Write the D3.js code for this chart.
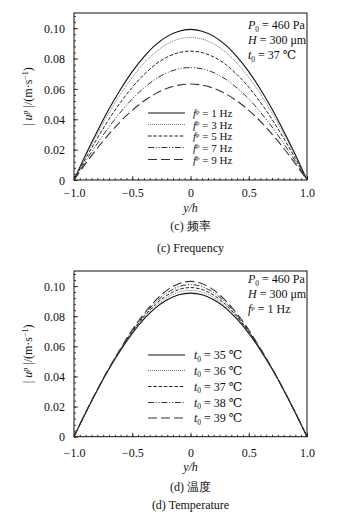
<!DOCTYPE html>
<html><head><meta charset="utf-8">
<script src="https://cdn.jsdelivr.net/npm/d3@7"></script>
<style>
body{margin:0;background:#fff;}
text{font-family:"Liberation Serif","DejaVu Serif",serif;fill:#111;}
</style></head>
<body><svg id="c" width="358" height="525"></svg>
<script>
// ---- data ----
const yh = [-1.0,-0.9,-0.8,-0.7,-0.6,-0.5,-0.4,-0.3,-0.2,-0.1,0,0.1,0.2,0.3,0.4,0.5,0.6,0.7,0.8,0.9,1.0];
const xTicks = [-1.0,-0.5,0,0.5,1.0];
const xTickLabels = ["\u22121.0","\u22120.5","0","0.5","1.0"];
const yTicks = [0,0.02,0.04,0.06,0.08,0.10];
const yTickLabels = ["0","0.02","0.04","0.06","0.08","0.10"];

// (c) frequency
const freqLabels = ["1","3","5","7","9"];
const f1 = [0,0.0166,0.0321,0.0467,0.0598,0.0714,0.0811,0.0890,0.0946,0.0980,0.0992,0.0980,0.0946,0.0890,0.0811,0.0714,0.0598,0.0467,0.0321,0.0166,0];
const f3 = [0,0.0157,0.0304,0.0442,0.0566,0.0676,0.0768,0.0842,0.0896,0.0928,0.0939,0.0928,0.0896,0.0842,0.0768,0.0676,0.0566,0.0442,0.0304,0.0157,0];
const f5 = [0,0.0142,0.0275,0.0400,0.0512,0.0611,0.0694,0.0762,0.0810,0.0839,0.0849,0.0839,0.0810,0.0762,0.0694,0.0611,0.0512,0.0400,0.0275,0.0142,0];
const f7 = [0,0.0124,0.0240,0.0349,0.0447,0.0534,0.0606,0.0665,0.0707,0.0732,0.0741,0.0732,0.0707,0.0665,0.0606,0.0534,0.0447,0.0349,0.0240,0.0124,0];
const f9 = [0,0.0108,0.0209,0.0302,0.0386,0.0459,0.0520,0.0569,0.0604,0.0625,0.0632,0.0625,0.0604,0.0569,0.0520,0.0459,0.0386,0.0302,0.0209,0.0108,0];

// (d) temperature
const tempLabels = ["35","36","37","38","39"];
const t35 = [0,0.0159,0.0309,0.0449,0.0575,0.0686,0.0780,0.0855,0.0909,0.0942,0.0953,0.0942,0.0909,0.0855,0.0780,0.0686,0.0575,0.0449,0.0309,0.0159,0];
const t36 = [0,0.0159,0.0310,0.0450,0.0577,0.0692,0.0788,0.0867,0.0924,0.0959,0.0971,0.0959,0.0924,0.0867,0.0788,0.0692,0.0577,0.0450,0.0310,0.0159,0];
const t37 = [0,0.0159,0.0310,0.0452,0.0580,0.0697,0.0796,0.0879,0.0939,0.0977,0.0990,0.0977,0.0939,0.0879,0.0796,0.0697,0.0580,0.0452,0.0310,0.0159,0];
const t38 = [0,0.0160,0.0311,0.0453,0.0582,0.0704,0.0806,0.0892,0.0956,0.0996,0.1010,0.0996,0.0956,0.0892,0.0806,0.0704,0.0582,0.0453,0.0311,0.0160,0];
const t39 = [0,0.0160,0.0312,0.0455,0.0585,0.0710,0.0815,0.0905,0.0973,0.1016,0.1031,0.1016,0.0973,0.0905,0.0815,0.0710,0.0585,0.0455,0.0312,0.0160,0];

// ---- styles ----
const styles = [
  {dash:null, color:"#111", w:1.1},
  {dash:"1,1", color:"#666", w:0.9},
  {dash:"3.5,1.8", color:"#222", w:1},
  {dash:"6,1.8,1,1.8,1,1.8", color:"#333", w:1},
  {dash:"9,4", color:"#333", w:1.1}
];

const svg = d3.select("#c");

function panel(o){
  const g = svg.append("g");
  const x = d3.scaleLinear().domain([-1,1]).range([74,307]);
  const y = d3.scaleLinear().domain([0,0.11]).range([o.bottom,o.top]);
  g.append("rect").attr("x",74).attr("y",o.top).attr("width",233).attr("height",o.bottom-o.top)
    .attr("fill","none").attr("stroke","#111").attr("stroke-width",1);
  const ya = d3.axisLeft(y).tickValues(yTicks).tickSize(-4).tickFormat((d,i)=>yTickLabels[i]);
  const ym = d3.axisLeft(y).tickValues(d3.range(0,0.1101,0.004)).tickSize(-2).tickFormat("");
  const xa = d3.axisBottom(x).tickValues(xTicks).tickSize(-4).tickFormat((d,i)=>xTickLabels[i]);
  const xm = d3.axisBottom(x).tickValues(d3.range(-1,1.001,0.05)).tickSize(-2).tickFormat("");
  {const s=g.append("g").attr("transform","translate(74,0)").call(ym);s.select(".domain").remove();}
  {const s=g.append("g").attr("transform",`translate(0,${o.bottom})`).call(xm);s.select(".domain").remove();}
  const yg = g.append("g").attr("transform","translate(74,0)").call(ya);
  yg.select(".domain").remove();
  yg.selectAll("text").attr("x",-9).attr("dy","0.35em").style("font-size","12px").style("font-family","Liberation Serif");
  const xg = g.append("g").attr("transform",`translate(0,${o.bottom})`).call(xa);
  xg.select(".domain").remove();
  xg.selectAll("text").attr("y",o.xlabOff).attr("dy",0).style("font-size","12px").style("font-family","Liberation Serif");
  g.selectAll(".tick line").attr("stroke","#111").attr("stroke-width",0.8);

  const line = d3.line().x((d,i)=>x(yh[i])).y(d=>y(d)).curve(d3.curveCatmullRom);
  o.series.forEach((s,i)=>{
    g.append("path").attr("d",line(s)).attr("fill","none")
      .attr("stroke",styles[i].color).attr("stroke-width",styles[i].w)
      .attr("stroke-dasharray",styles[i].dash);
  });

  o.legendY.forEach((ly,i)=>{
    g.append("line").attr("x1",148).attr("x2",185).attr("y1",ly).attr("y2",ly)
      .attr("stroke",styles[i].color).attr("stroke-width",styles[i].w)
      .attr("stroke-dasharray",styles[i].dash);
    const t = g.append("text").attr("x",o.legX).attr("y",ly+4).style("font-size",o.legFont+"px");
    o.legText(t,i);
  });

  o.notes.forEach((n,i)=>{
    const t = g.append("text").attr("x",248).attr("y",o.noteY[i]).style("font-size","12px");
    n(t);
  });

  const yl = g.append("text").attr("transform",`translate(32,${(o.top+o.bottom)/2}) rotate(-90)`)
    .attr("text-anchor","middle").style("font-size","12px");
  yl.append("tspan").text("| ");
  yl.append("tspan").text("u").style("font-style","italic");
  yl.append("tspan").text("p").style("font-size","8px").attr("dy",-4).style("font-style","italic");
  yl.append("tspan").text(" |/(m\u00b7s").attr("dy",4);
  yl.append("tspan").text("\u22121").style("font-size","8px").attr("dy",-4);
  yl.append("tspan").text(")").attr("dy",4);

  g.append("text").attr("x",190.5).attr("y",o.capY[0]).attr("text-anchor","middle")
    .style("font-size","12px").style("font-style","italic").text("y/h");
  g.append("text").attr("x",190.5).attr("y",o.capY[1]).attr("text-anchor","middle")
    .style("font-size","12px").text(o.cap1);
  g.append("text").attr("x",190.5).attr("y",o.capY[2]).attr("text-anchor","middle")
    .style("font-size","12px").text(o.cap2);
}

function sub(t, base, s, italic){
  t.append("tspan").text(base).style("font-style",italic?"italic":"normal");
  t.append("tspan").text(s).style("font-size","7.5px").attr("dy",2.5);
}
function fp(t){
  t.append("tspan").text("f").style("font-style","italic");
  t.append("tspan").text("p").style("font-size","7px").attr("dy",-3.5);
}

panel({
  top:13, bottom:180, xlabOff:17,
  series:[f1,f3,f5,f7,f9],
  legendY:[113,124.5,136,147.5,159.5], legX:193, legFont:11,
  legText:(t,i)=>{ fp(t); t.append("tspan").text(" = "+freqLabels[i]+" Hz").attr("dy",3.5); },
  noteY:[29,44,59],
  notes:[
    t=>{ sub(t,"P","0",true); t.append("tspan").text(" = 460 Pa").attr("dy",-2.5); },
    t=>{ t.append("tspan").text("H").style("font-style","italic"); t.append("tspan").text(" = 300 \u03bcm"); },
    t=>{ sub(t,"t","0",true); t.append("tspan").text(" = 37 \u2103").attr("dy",-2.5); }
  ],
  capY:[212,230,252], cap1:"(c) 频率", cap2:"(c) Frequency"
});

panel({
  top:271, bottom:436.7, xlabOff:20,
  series:[t35,t36,t37,t38,t39],
  legendY:[355,370.5,386.5,402.5,418], legX:194, legFont:12,
  legText:(t,i)=>{ sub(t,"t","0",true); t.append("tspan").text(" = "+tempLabels[i]+" \u2103").attr("dy",-2.5); },
  noteY:[283,298,313],
  notes:[
    t=>{ sub(t,"P","0",true); t.append("tspan").text(" = 460 Pa").attr("dy",-2.5); },
    t=>{ t.append("tspan").text("H").style("font-style","italic"); t.append("tspan").text(" = 300 \u03bcm"); },
    t=>{ fp(t); t.append("tspan").text(" = 1 Hz").attr("dy",3.5); }
  ],
  capY:[471,491,509], cap1:"(d) 温度", cap2:"(d) Temperature"
});
</script></body></html>
